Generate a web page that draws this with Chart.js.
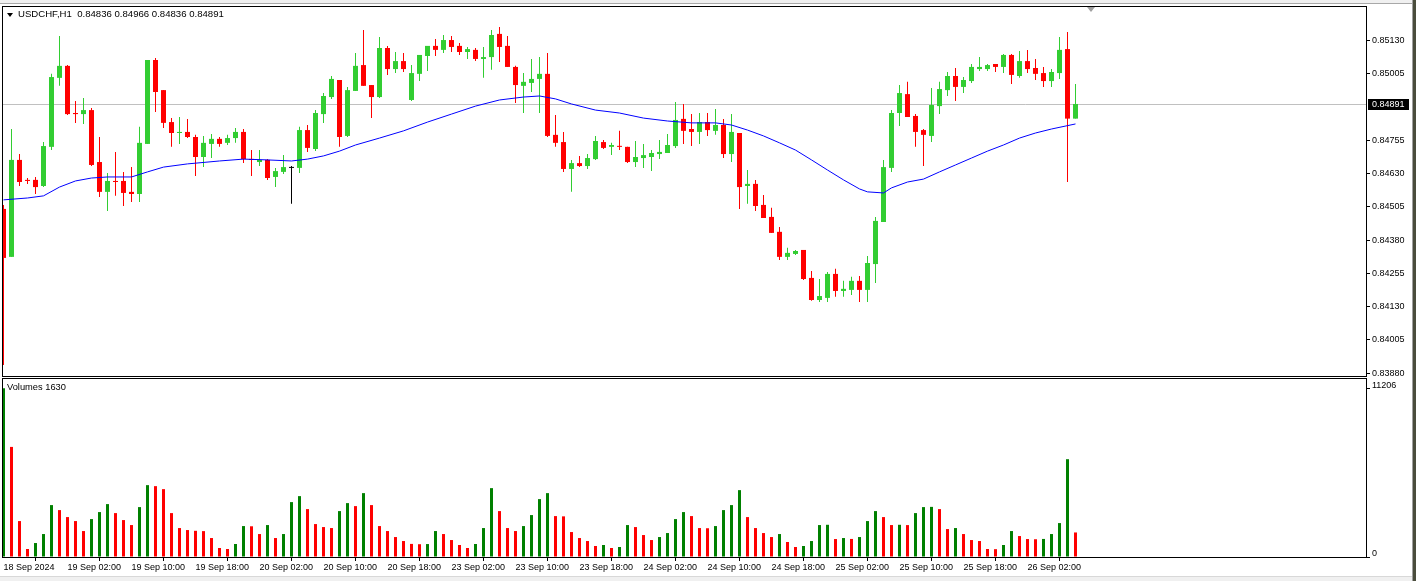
<!DOCTYPE html>
<html>
<head>
<meta charset="utf-8">
<script src="https://cdn.jsdelivr.net/npm/chart.js@4.4.1/dist/chart.umd.min.js"></script>
<style>
  html, body { margin: 0; padding: 0; background: #fff; width: 1416px; height: 581px; overflow: hidden; }
  body { position: relative; font-family: 'Liberation Sans', Arial, sans-serif; }
  canvas { position: absolute; left: 0; }
  #priceCanvas { top: 0; }
  #volCanvas { top: 378px; }
  .frame { position: absolute; border: 1px solid #000; pointer-events: none; }
  .txt { position: absolute; line-height: 10px; color: #000; white-space: pre; }
  #topBar { position: absolute; left: 0; top: 0; width: 1416px; height: 3px; background: #f0f0f0; border-bottom: 1px solid #a8a8a8; }
  #bottomBar { position: absolute; left: 0; top: 576px; width: 1416px; height: 5px; background: #f0f0f0; border-top: 1px solid #d8d8d8; }
  #rightEdge { position: absolute; left: 1412px; top: 0; width: 4px; height: 581px; background: #4a4d3c; border-left: 1px solid #a0a0a0; }
  #tri { position: absolute; left: 7px; top: 13px; width: 0; height: 0; border-left: 3px solid transparent; border-right: 3px solid transparent; border-top: 4px solid #000; }
  #shift { position: absolute; left: 1087px; top: 7px; width: 0; height: 0; border-left: 4px solid transparent; border-right: 4px solid transparent; border-top: 5px solid #a0a0a0; }
</style>
</head>
<body>
<div id="topBar"></div>
<canvas id="priceCanvas" width="1416" height="377"></canvas>
<canvas id="volCanvas" width="1416" height="203"></canvas>
<div class="frame" style="left:2px; top:6px; width:1363px; height:369px;"></div>
<div class="frame" style="left:2px; top:378px; width:1363px; height:178px;"></div>
<div id="tri"></div>
<div id="shift"></div>
<div class="txt" id="title" style="left:18px; top:9px; font-size:9.6px;"></div>
<div class="txt" id="volTitle" style="left:7px; top:382px; font-size:9.3px;"></div>
<div id="bottomBar"></div>
<div id="rightEdge"></div>
<script>
// USDCHF H1, one entry per hourly bar
const openP = [0.84497,0.84317,0.84681,0.84606,0.84606,0.84583,0.84730,0.84989,0.85034,0.84857,
  0.84853,0.84868,0.84673,0.84561,0.84602,0.84602,0.84561,0.84553,0.84741,0.85056,
  0.84943,0.84823,0.84782,0.84786,0.84767,0.84692,0.84741,0.84760,0.84745,0.84763,
  0.84786,0.84684,0.84673,0.84681,0.84617,0.84636,0.84651,0.84651,0.84793,0.84722,
  0.84853,0.84917,0.84981,0.84771,0.84940,0.85037,0.84962,0.84917,0.85101,0.85022,
  0.85052,0.84906,0.85004,0.85071,0.85109,0.85094,0.85131,0.85109,0.85086,0.85094,
  0.85060,0.85067,0.85154,0.85109,0.85030,0.84959,0.84970,0.84985,0.85004,0.84775,
  0.84748,0.84647,0.84669,0.84658,0.84684,0.84748,0.84730,0.84733,0.84730,0.84673,
  0.84688,0.84692,0.84703,0.84707,0.84733,0.84835,0.84797,0.84786,0.84823,0.84790,
  0.84812,0.84703,0.84782,0.84583,0.84591,0.84512,0.84467,0.84411,0.84317,0.84328,
  0.84343,0.84238,0.84155,0.84163,0.84253,0.84189,0.84193,0.84227,0.84193,0.84290,
  0.84448,0.84651,0.84857,0.84928,0.84846,0.84793,0.84771,0.84883,0.84943,0.84996,
  0.84955,0.84977,0.85022,0.85022,0.85041,0.85030,0.85075,0.84996,0.85052,0.85026,
  0.85007,0.84977,0.85007,0.85097,0.84836];
const highP = [0.84512,0.84797,0.84703,0.84613,0.84617,0.84748,0.85004,0.85146,0.85037,0.84902,
  0.84913,0.84876,0.84767,0.84632,0.84711,0.84636,0.84654,0.84805,0.85056,0.85064,
  0.84943,0.84838,0.84842,0.84835,0.84775,0.84771,0.84778,0.84767,0.84775,0.84801,
  0.84797,0.84718,0.84718,0.84684,0.84651,0.84699,0.84658,0.84805,0.84812,0.84868,
  0.84932,0.84996,0.84981,0.84955,0.85082,0.85169,0.84962,0.85142,0.85109,0.85086,
  0.85082,0.85037,0.85075,0.85109,0.85135,0.85150,0.85146,0.85120,0.85105,0.85101,
  0.85105,0.85169,0.85180,0.85146,0.85034,0.85007,0.85060,0.85067,0.85082,0.84850,
  0.84786,0.84681,0.84696,0.84703,0.84771,0.84756,0.84745,0.84790,0.84730,0.84752,
  0.84741,0.84718,0.84756,0.84778,0.84898,0.84891,0.84853,0.84857,0.84857,0.84872,
  0.84835,0.84853,0.84782,0.84643,0.84606,0.84549,0.84501,0.84429,0.84351,0.84343,
  0.84343,0.84264,0.84234,0.84260,0.84272,0.84227,0.84242,0.84245,0.84320,0.84467,
  0.84681,0.84868,0.84962,0.84974,0.84853,0.84797,0.84951,0.84974,0.85011,0.85026,
  0.84992,0.85041,0.85067,0.85041,0.85041,0.85079,0.85079,0.85090,0.85094,0.85060,
  0.85030,0.85022,0.85142,0.85161,0.84966];
const lowP = [0.83911,0.84317,0.84583,0.84591,0.84553,0.84579,0.84718,0.84959,0.84850,0.84820,
  0.84816,0.84658,0.84542,0.84489,0.84546,0.84508,0.84523,0.84523,0.84741,0.84861,
  0.84801,0.84730,0.84741,0.84763,0.84621,0.84654,0.84688,0.84730,0.84737,0.84745,
  0.84669,0.84621,0.84658,0.84606,0.84579,0.84628,0.84516,0.84632,0.84711,0.84714,
  0.84820,0.84910,0.84730,0.84767,0.84940,0.84959,0.84838,0.84913,0.85000,0.85007,
  0.85011,0.84902,0.84977,0.85015,0.85071,0.85082,0.85086,0.85075,0.85060,0.85052,
  0.84989,0.85019,0.85049,0.85030,0.84895,0.84857,0.84936,0.84857,0.84767,0.84730,
  0.84636,0.84561,0.84654,0.84647,0.84681,0.84722,0.84699,0.84718,0.84669,0.84654,
  0.84651,0.84639,0.84684,0.84707,0.84726,0.84741,0.84733,0.84741,0.84771,0.84775,
  0.84688,0.84673,0.84497,0.84516,0.84489,0.84463,0.84407,0.84305,0.84305,0.84324,
  0.84230,0.84152,0.84148,0.84148,0.84167,0.84167,0.84174,0.84148,0.84148,0.84219,
  0.84448,0.84636,0.84808,0.84842,0.84730,0.84658,0.84748,0.84853,0.84921,0.84902,
  0.84932,0.84970,0.85015,0.85015,0.85011,0.85007,0.84966,0.84989,0.85007,0.84981,
  0.84955,0.84955,0.84985,0.84598,0.84836];
const closeP = [0.84313,0.84681,0.84598,0.84602,0.84579,0.84733,0.84992,0.85034,0.84853,0.84853,
  0.84868,0.84662,0.84561,0.84602,0.84598,0.84557,0.84553,0.84745,0.85056,0.84936,
  0.84820,0.84782,0.84786,0.84767,0.84692,0.84745,0.84760,0.84741,0.84763,0.84786,
  0.84684,0.84681,0.84681,0.84613,0.84639,0.84654,0.84651,0.84793,0.84726,0.84857,
  0.84921,0.84985,0.84767,0.84943,0.85034,0.84959,0.84917,0.85101,0.85022,0.85052,
  0.85022,0.85007,0.85075,0.85109,0.85094,0.85131,0.85105,0.85086,0.85097,0.85060,
  0.85067,0.85150,0.85105,0.85030,0.84962,0.84974,0.84985,0.85004,0.84771,0.84745,
  0.84647,0.84669,0.84658,0.84688,0.84752,0.84726,0.84737,0.84730,0.84673,0.84692,
  0.84699,0.84707,0.84711,0.84737,0.84831,0.84790,0.84786,0.84823,0.84793,0.84812,
  0.84703,0.84786,0.84579,0.84591,0.84508,0.84463,0.84407,0.84317,0.84332,0.84339,
  0.84234,0.84155,0.84170,0.84253,0.84189,0.84197,0.84227,0.84193,0.84294,0.84452,
  0.84654,0.84857,0.84932,0.84842,0.84786,0.84775,0.84887,0.84947,0.84996,0.84955,
  0.84981,0.85030,0.85030,0.85037,0.85030,0.85075,0.85000,0.85052,0.85022,0.85004,
  0.84977,0.85011,0.85094,0.84836,0.84891];
const volumes = [11206,7313,2387,530,928,1525,3448,3116,2652,2387,
  1724,2519,2984,3514,2917,2453,2122,3315,4774,4707,
  4508,2917,1923,1790,1740,1720,1260,597,530,862,
  2055,2040,1525,2122,1260,1525,3647,4044,3182,2188,
  1989,1923,3050,3580,3381,4243,3448,2055,1724,1326,
  1061,870,850,860,1724,1525,1127,796,597,862,
  1923,4575,3050,1923,1724,2055,2785,3846,4243,2718,
  2700,1658,1260,1061,729,796,597,663,2122,1989,
  1459,1127,1326,1591,2519,2984,2718,1923,1910,2055,
  3116,3448,4442,2652,1923,1591,1326,1525,995,663,
  729,1061,2122,2140,1193,1260,1200,1326,2387,3050,
  2652,2122,2140,2120,2917,3315,3330,3182,1856,1923,
  1525,1127,1061,530,520,796,1724,1392,1193,1180,
  1200,1525,2254,6497,1630];

// moving average, read at selected bars
const maBars = [0,3,5,7,9,11,13,16,18,20,23,27,30,33,36,38,40,42,44,47,
  50,53,56,59,62,65,67,69,71,74,77,80,83,86,89,91,93,95,97,99,
  101,103,105,107,108,110,111,113,115,117,119,121,123,125,127,129,131,134];
const maValues = [0.84531,0.84538,0.84546,0.84579,0.84602,0.84613,0.84617,0.84617,0.84636,0.84654,
  0.84666,0.84677,0.84684,0.84681,0.84677,0.84684,0.84696,0.84714,0.84737,0.84763,
  0.84790,0.84823,0.84853,0.84883,0.84906,0.84917,0.84921,0.84910,0.84891,0.84868,
  0.84857,0.84838,0.84827,0.84820,0.84820,0.84812,0.84793,0.84771,0.84745,0.84718,
  0.84681,0.84643,0.84606,0.84572,0.84561,0.84557,0.84576,0.84598,0.84609,0.84636,
  0.84662,0.84688,0.84714,0.84737,0.84763,0.84782,0.84797,0.84816];

const priceTicks = [0.85130,0.85005,0.84755,0.84630,0.84505,0.84380,0.84255,0.84130,0.84005,0.83880];
const timeTickBars = [0,8,16,24,32,40,48,56,64,72,80,88,96,104,112,120,128];
const timeTickLabels = ['18 Sep 2024','19 Sep 02:00','19 Sep 10:00','19 Sep 18:00','20 Sep 02:00',
  '20 Sep 10:00','20 Sep 18:00','23 Sep 02:00','23 Sep 10:00','23 Sep 18:00','24 Sep 02:00',
  '24 Sep 10:00','24 Sep 18:00','25 Sep 02:00','25 Sep 10:00','25 Sep 18:00','26 Sep 02:00'];

// visible ranges of the two panes
const xRange = { min: -0.0625, max: 170.3125 };
const priceRange = { min: 0.838698, max: 0.852550 };
const volumeRange = { min: 0, max: 11824 };

const BULL = '#32cd32', BEAR = '#ff0000', DOJI = '#000000';
const VOL_UP = '#008000', VOL_DOWN = '#ff0000';

Chart.defaults.font.family = "'Liberation Sans', Arial, sans-serif";
Chart.defaults.font.size = 9;
Chart.defaults.color = '#000';

const n = closeP.length;
const last = n - 1;
const candleColors = closeP.map((c, i) => c > openP[i] ? BULL : (c < openP[i] ? BEAR : DOJI));
const volColors = volumes.map((v, i) => (i === 0 || v > volumes[i - 1]) ? VOL_UP : VOL_DOWN);

document.getElementById('title').textContent =
  'USDCHF,H1  ' + [openP[last], highP[last], lowP[last], closeP[last]].map(v => v.toFixed(5)).join(' ');
document.getElementById('volTitle').textContent = 'Volumes ' + volumes[last];

// keep the plot areas fixed: no extra room for edge labels
function fixWidth(s) {
    s.width = 50;
    s.paddingTop = 0;
    s.paddingBottom = 0;
}

const lastPricePlugin = {
    id: 'lastPrice',
    beforeDatasetsDraw(chart) {
        const { ctx, chartArea, scales } = chart;
        const py = Math.round(scales.y.getPixelForValue(closeP[last])) + 0.5;
        ctx.save();
        ctx.strokeStyle = '#c0c0c0';
        ctx.lineWidth = 1;
        ctx.beginPath();
        ctx.moveTo(chartArea.left, py);
        ctx.lineTo(chartArea.right, py);
        ctx.stroke();
        ctx.restore();
    },
    afterDraw(chart) {
        const { ctx, chartArea, scales } = chart;
        const py = Math.round(scales.y.getPixelForValue(closeP[last]));
        ctx.save();
        ctx.fillStyle = '#000';
        ctx.fillRect(chartArea.right + 2, py - 5, 41, 11);
        ctx.fillStyle = '#fff';
        ctx.font = "9px 'Liberation Sans', Arial, sans-serif";
        ctx.textBaseline = 'middle';
        ctx.fillText(closeP[last].toFixed(5), chartArea.right + 6, py + 1);
        ctx.restore();
    }
};

const barBase = { grouped: false, inflateAmount: 0, borderWidth: 0 };

new Chart(document.getElementById('priceCanvas'), {
    type: 'bar',
    data: {
        datasets: [
            {
                ...barBase, type: 'line', order: 0,
                data: maBars.map((b, k) => ({ x: b, y: maValues[k] })),
                borderColor: '#0000ff', borderWidth: 1, pointRadius: 0, tension: 0, fill: false
            },
            {
                ...barBase, order: 1, barThickness: 5, minBarLength: 1,
                data: openP.map((o, i) => ({ x: i, y: [o, closeP[i]] })),
                backgroundColor: candleColors
            },
            {
                ...barBase, order: 2, barThickness: 1,
                data: lowP.map((l, i) => ({ x: i, y: [l, highP[i]] })),
                backgroundColor: candleColors
            }
        ]
    },
    options: {
        responsive: false, animation: false, devicePixelRatio: 1,
        layout: { padding: { left: 3, top: 7, right: 0, bottom: 1 } },
        plugins: { legend: { display: false }, tooltip: { enabled: false } },
        scales: {
            x: { type: 'linear', min: xRange.min, max: xRange.max, offset: false, display: false },
            y: {
                position: 'right', min: priceRange.min, max: priceRange.max, beginAtZero: false,
                afterFit: fixWidth,
                afterBuildTicks: s => { s.ticks = priceTicks.map(v => ({ value: v })); },
                ticks: { callback: v => Number(v).toFixed(5), padding: 2, color: '#000' },
                grid: { drawOnChartArea: false, drawTicks: true, tickLength: 4, color: '#000' },
                border: { display: false }
            }
        }
    },
    plugins: [lastPricePlugin]
});

new Chart(document.getElementById('volCanvas'), {
    type: 'bar',
    data: {
        datasets: [{
            ...barBase, barThickness: 3,
            data: volumes.map((v, i) => ({ x: i, y: v })),
            backgroundColor: volColors
        }]
    },
    options: {
        responsive: false, animation: false, devicePixelRatio: 1,
        layout: { padding: { left: 3, top: 1, right: 0, bottom: 0 } },
        plugins: { legend: { display: false }, tooltip: { enabled: false } },
        scales: {
            x: {
                type: 'linear', min: xRange.min, max: xRange.max, offset: false, position: 'bottom',
                afterFit: s => { s.height = 24; s.paddingLeft = 0; s.paddingRight = 0; },
                afterBuildTicks: s => { s.ticks = timeTickBars.map(v => ({ value: v })); },
                ticks: {
                    callback: (v, k) => timeTickLabels[k], align: 'start', autoSkip: false,
                    maxRotation: 0, minRotation: 0, padding: 1, color: '#000'
                },
                grid: { drawOnChartArea: false, drawTicks: true, tickLength: 4, color: '#000' },
                border: { display: false }
            },
            y: {
                position: 'right', min: volumeRange.min, max: volumeRange.max,
                afterFit: fixWidth,
                afterBuildTicks: s => { s.ticks = [0, Math.max(...volumes)].map(v => ({ value: v })); },
                ticks: { callback: v => String(v), padding: 2, labelOffset: -3, color: '#000' },
                grid: { drawOnChartArea: false, drawTicks: true, tickLength: 4, color: '#000' },
                border: { display: false }
            }
        }
    }
});
</script>
</body>
</html>
